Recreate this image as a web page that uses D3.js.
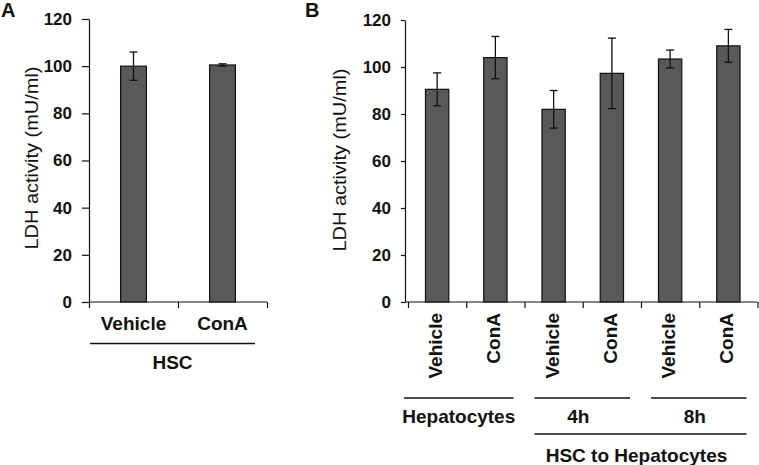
<!DOCTYPE html>
<html>
<head>
<meta charset="utf-8">
<script src="https://cdn.jsdelivr.net/npm/d3@7"></script>
<style>
  body { margin: 0; background: #fff; }
  svg { display: block; font-family: "Liberation Sans", Arial, sans-serif; }
  .lbl { font-size: 19px; font-weight: bold; fill: #111; }
</style>
</head>
<body>
<div id="chart"></div>
<script>
// panel A data
const catsA = ["Vehicle", "ConA"];
const valuesA = [100, 100.5];
const errorsA = [6, 0.5];

// panel B data
const catsB = ["Vehicle", "ConA", "Vehicle", "ConA", "Vehicle", "ConA"];
const valuesB = [90.5, 104, 82, 97.3, 103.4, 109];
const errorsB = [7, 9, 8, 15, 3.8, 7];

// groupings under the x axis of B
const groupNamesB = ["Hepatocytes", "4h", "8h"];
const groupSpansB = [[0, 2], [2, 4], [4, 6]];
const outerNameB = "HSC to Hepatocytes";
const outerSpanB = [2, 6];

const yTicks = [0, 20, 40, 60, 80, 100, 120];
const yTitle = "LDH activity (mU/ml)";

const width = 759, height = 465;
const barColor = "#595959";

const svg = d3.select("#chart").append("svg")
  .attr("width", width)
  .attr("height", height);

function styleAxis(sel) {
  sel.selectAll("path, line").style("stroke", "#111").style("stroke-width", 1.2);
  sel.selectAll("text")
    .style("font-family", "'Liberation Sans', Arial, sans-serif")
    .style("font-size", "17px")
    .style("font-weight", "bold")
    .style("fill", "#111");
}

// draws one bar panel, returns the scales
function panel(opt) {
  const g = svg.append("g");
  const y = d3.scaleLinear().domain([0, 120]).range([302, opt.yTop]);
  const idx = d3.range(opt.values.length);
  const x = d3.scaleBand().domain(idx).range(opt.xRange)
    .paddingInner(opt.pad).paddingOuter(opt.pad / 2);
  const xb = d3.scaleLinear().domain([0, idx.length]).range(opt.xRange);

  // y axis
  g.append("g")
    .attr("transform", `translate(${opt.axisX},0)`)
    .call(d3.axisLeft(y).tickValues(yTicks).tickSize(opt.tick).tickSizeOuter(0).tickPadding(10))
    .call(styleAxis);

  // x axis, ticks at category boundaries
  const xa = g.append("g")
    .attr("transform", `translate(0,${y(0)})`)
    .call(d3.axisBottom(xb).tickValues(d3.range(idx.length + 1)).tickSize(6).tickSizeOuter(0).tickFormat(""))
    .call(styleAxis);
  xa.select(".domain").attr("d", `M${opt.axisX},0H${opt.xRange[1]}`);

  // bars
  g.selectAll("rect.bar").data(idx).join("rect")
    .attr("x", i => x(i))
    .attr("width", x.bandwidth())
    .attr("y", i => y(opt.values[i]))
    .attr("height", i => y(0) - y(opt.values[i]))
    .attr("fill", barColor)
    .attr("stroke", "#111")
    .attr("stroke-width", 1.2);

  // error bars
  const cx = i => x(i) + x.bandwidth() / 2;
  const eb = g.selectAll("g.err").data(idx).join("g").attr("stroke", "#111").attr("stroke-width", 1.3);
  eb.append("line").attr("x1", cx).attr("x2", cx)
    .attr("y1", i => y(opt.values[i] + opt.errors[i]))
    .attr("y2", i => y(opt.values[i] - opt.errors[i]));
  eb.append("line").attr("x1", i => cx(i) - 4).attr("x2", i => cx(i) + 4)
    .attr("y1", i => y(opt.values[i] + opt.errors[i]))
    .attr("y2", i => y(opt.values[i] + opt.errors[i]));
  eb.append("line").attr("x1", i => cx(i) - 4).attr("x2", i => cx(i) + 4)
    .attr("y1", i => y(opt.values[i] - opt.errors[i]))
    .attr("y2", i => y(opt.values[i] - opt.errors[i]));

  // y title
  svg.append("text")
    .attr("transform", `translate(${opt.titleX},${opt.titleY}) rotate(-90)`)
    .attr("text-anchor", "middle")
    .attr("font-size", 18)
    .attr("textLength", 183)
    .attr("lengthAdjust", "spacingAndGlyphs")
    .attr("fill", "#111")
    .text(yTitle);

  // panel letter
  svg.append("text").attr("x", opt.letterX).attr("y", 17)
    .attr("font-size", 20).attr("font-weight", "bold").attr("fill", "#111")
    .text(opt.letter);

  return { x, xb, y, cx, g };
}

// ---- panel A
const A = panel({
  values: valuesA, errors: errorsA, xRange: [89, 267], axisX: 89, yTop: 19,
  pad: 0.71, tick: 7, titleX: 38, titleY: 158, letter: "A", letterX: 1
});
A.g.selectAll("text.cat").data(d3.range(catsA.length)).join("text")
  .attr("class", "lbl")
  .attr("x", A.cx).attr("y", 330)
  .attr("text-anchor", "middle")
  .text(i => catsA[i]);
A.g.append("line").attr("x1", A.xb(0) + 1).attr("x2", A.xb(2) - 12)
  .attr("y1", 343.5).attr("y2", 343.5).attr("stroke", "#111").attr("stroke-width", 1.3);
A.g.append("text").attr("class", "lbl")
  .attr("x", (A.xb(0) + A.xb(2) - 11) / 2).attr("y", 369)
  .attr("text-anchor", "middle").text("HSC");

// ---- panel B
const B = panel({
  values: valuesB, errors: errorsB, xRange: [408, 757.5], axisX: 405, yTop: 20,
  pad: 0.6, tick: 4, titleX: 346, titleY: 160, letter: "B", letterX: 305
});
B.g.selectAll("text.cat").data(d3.range(catsB.length)).join("text")
  .attr("class", "lbl")
  .attr("transform", i => `translate(${B.cx(i) + 5},313) rotate(-90)`)
  .attr("text-anchor", "end")
  .text(i => catsB[i]);

function bracket(span, name, lineY, textY, first) {
  const x1 = first ? 404 : B.xb(span[0]) + 10;
  const x2 = B.xb(span[1]) - 11;
  B.g.append("line").attr("x1", x1).attr("x2", x2)
    .attr("y1", lineY).attr("y2", lineY).attr("stroke", "#111").attr("stroke-width", 1.3);
  B.g.append("text").attr("class", "lbl")
    .attr("x", (x1 + x2) / 2 - (first ? 0 : 4)).attr("y", textY)
    .attr("text-anchor", "middle").text(name);
}
groupNamesB.forEach((n, k) => bracket(groupSpansB[k], n, 398, 423, k === 0));
bracket(outerSpanB, outerNameB, 434, 462, false);
</script>
</body>
</html>
